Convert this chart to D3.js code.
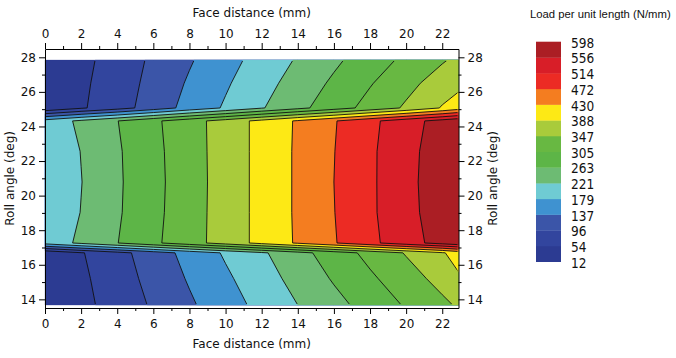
<!DOCTYPE html>
<html><head><meta charset="utf-8">
<script src="https://cdn.jsdelivr.net/npm/d3@7"></script>
<style>body{margin:0;background:#fff} svg{display:block}</style>
</head><body>
<svg id="chart" width="676" height="358"></svg>
<script>
// ---- data ----
const faceDistance = [0, 2, 4, 6, 8, 10, 12, 14, 16, 18, 20, 22, 22.9];      // grid columns (mm)
const rollAngle = [27.84, 26.5, 25.07, 24.32, 22.56, 20.79, 19.03, 17.26, 16.69, 15.2, 13.67]; // grid rows (deg)
// load per unit length (N/mm), one row per roll angle, one value per face distance
const loadTopEdge      = [12, 42, 73, 103, 133, 164, 195, 225, 255, 285, 314, 343, 356];
const loadTopMid       = [15, 46, 76, 108, 142, 174, 206, 238, 270, 302, 334, 367, 376];
const loadTopInner     = [17, 49, 79, 114, 151, 184, 218, 252, 285, 319, 353, 391, 410];
const loadContactTop   = [195, 229, 262, 297, 331, 365, 400, 435, 469, 504, 539, 572, 587];
const loadContactUpper = [186, 222, 258, 294, 330, 365, 400, 436, 471, 507, 543, 578, 594];
const loadContactMid   = [183, 220, 257, 293, 329, 365, 400, 436, 472, 507, 544, 580, 596];
const loadContactLower = [186, 222, 258, 294, 330, 365, 400, 436, 471, 507, 543, 578, 594];
const loadContactBot   = [195, 229, 262, 297, 331, 365, 400, 435, 469, 504, 539, 572, 587];
const loadBotInner     = [18, 51, 83, 116, 151, 184, 215, 249, 283, 317, 350, 384, 405];
const loadBotMid       = [15, 46, 77, 109, 141, 172, 203, 235, 267, 298, 329, 361, 382];
const loadBotEdge      = [12, 42, 72, 101, 131, 161, 191, 221, 250, 279, 309, 338, 352];
const loadRows = [loadTopEdge, loadTopMid, loadTopInner, loadContactTop, loadContactUpper,
  loadContactMid, loadContactLower, loadContactBot, loadBotInner, loadBotMid, loadBotEdge];

const levels = [12, 54, 96, 137, 179, 221, 263, 305, 347, 388, 430, 472, 514, 556, 598];
const levelColors = ["#2c3b92", "#32459e", "#3b55a8", "#3f92d0", "#6fcbd3", "#6dbb73",
  "#5db547", "#68b842", "#a9cb3b", "#fde915", "#f47d20", "#ec2b24", "#d81e28", "#ab1e24"];
const xTickLabels = [0, 2, 4, 6, 8, 10, 12, 14, 16, 18, 20, 22];
const xMinorTicks = [1, 3, 5, 7, 9, 11, 13, 15, 17, 19, 21];
const yTickLabels = [14, 16, 18, 20, 22, 24, 26, 28];
const yMinorTicks = [15, 17, 19, 21, 23, 25, 27];

// ---- scales ----
const svg = d3.select("#chart");
const x = d3.scaleLinear().domain([0, 22.9]).range([45, 458.5]);
const y = d3.scaleLinear().domain([13.5, 28.48]).range([308, 49]);

const n = faceDistance.length, m = rollAngle.length;
const values = loadRows.flat();
function gridMap(arr, c) {
  let f = Math.max(0, Math.min(arr.length - 1, c - 0.5));
  const i = Math.min(arr.length - 2, Math.floor(f));
  const t = f - i;
  return arr[i] + t * (arr[i + 1] - arr[i]);
}
function toPath(geom) {
  let s = "";
  geom.coordinates.forEach(poly => poly.forEach(ring => {
    s += "M" + ring.map(p => x(gridMap(faceDistance, p[0])).toFixed(2) + "," +
      y(gridMap(rollAngle, p[1])).toFixed(2)).join("L") + "Z";
  }));
  return s;
}
const contours = d3.contours().size([n, m]);

const defs = svg.append("defs");
defs.append("clipPath").attr("id", "lineclip").append("rect")
  .attr("x", x(0) + 1).attr("y", y(27.84) + 1)
  .attr("width", x(22.9) - x(0) - 2).attr("height", y(13.67) - y(27.84) - 2);

const gFill = svg.append("g");
levelColors.forEach((c, i) => {
  const thr = i === 0 ? -1e9 : levels[i];
  gFill.append("path").attr("d", toPath(contours.contour(values, thr)))
    .attr("fill", c).attr("stroke", c).attr("stroke-width", 0.3);
});
const gLines = svg.append("g").attr("clip-path", "url(#lineclip)");
levels.slice(1, levels.length - 1).forEach(l => {
  gLines.append("path").attr("d", toPath(contours.contour(values, l)))
    .attr("fill", "none").attr("stroke", "#111").attr("stroke-width", 0.9);
});

// ---- axes ----
const font = "'DejaVu Sans', sans-serif";
function styleAxis(g) {
  g.selectAll("path.domain").attr("stroke", "#000").attr("stroke-width", 1);
  g.selectAll("line").attr("stroke", "#000");
  g.selectAll("text").attr("font-family", font).attr("font-size", 12).attr("fill", "#111");
}
const xb = svg.append("g").attr("transform", `translate(0,${y.range()[0]})`)
  .call(d3.axisBottom(x).tickValues(xTickLabels).tickSize(6).tickSizeOuter(0).tickPadding(5));
const xt = svg.append("g").attr("transform", `translate(0,${y.range()[1]})`)
  .call(d3.axisTop(x).tickValues(xTickLabels).tickSize(6).tickSizeOuter(0).tickPadding(5));
const yl = svg.append("g").attr("transform", `translate(${x.range()[0]},0)`)
  .call(d3.axisLeft(y).tickValues(yTickLabels).tickSize(6).tickSizeOuter(0).tickPadding(3));
const yr = svg.append("g").attr("transform", `translate(${x.range()[1]},0)`)
  .call(d3.axisRight(y).tickValues(yTickLabels).tickSize(6).tickSizeOuter(0).tickPadding(3));
[xb, xt, yl, yr].forEach(styleAxis);
// minor ticks
svg.append("g").attr("transform", `translate(0,${y.range()[0]})`)
  .call(d3.axisBottom(x).tickValues(xMinorTicks).tickSize(3).tickSizeOuter(0).tickFormat(""))
  .call(g => g.select(".domain").remove()).call(styleAxis);
svg.append("g").attr("transform", `translate(0,${y.range()[1]})`)
  .call(d3.axisTop(x).tickValues(xMinorTicks).tickSize(3).tickSizeOuter(0).tickFormat(""))
  .call(g => g.select(".domain").remove()).call(styleAxis);
svg.append("g").attr("transform", `translate(${x.range()[0]},0)`)
  .call(d3.axisLeft(y).tickValues(yMinorTicks).tickSize(3).tickSizeOuter(0).tickFormat(""))
  .call(g => g.select(".domain").remove()).call(styleAxis);
svg.append("g").attr("transform", `translate(${x.range()[1]},0)`)
  .call(d3.axisRight(y).tickValues(yMinorTicks).tickSize(3).tickSizeOuter(0).tickFormat(""))
  .call(g => g.select(".domain").remove()).call(styleAxis);

// ---- axis titles ----
const cx = (x.range()[0] + x.range()[1]) / 2;
const cy = (y(14) + y(28)) / 2;
svg.append("text").attr("x", cx).attr("y", 17).attr("text-anchor", "middle")
  .attr("font-family", font).attr("font-size", 12).attr("fill", "#111").text("Face distance (mm)");
svg.append("text").attr("x", cx).attr("y", 348).attr("text-anchor", "middle")
  .attr("font-family", font).attr("font-size", 12).attr("fill", "#111").text("Face distance (mm)");
svg.append("text").attr("transform", `translate(14,${cy}) rotate(-90)`).attr("text-anchor", "middle")
  .attr("font-family", font).attr("font-size", 12).attr("fill", "#111").text("Roll angle (deg)");
svg.append("text").attr("transform", `translate(497,${cy}) rotate(-90)`).attr("text-anchor", "middle")
  .attr("font-family", font).attr("font-size", 12).attr("fill", "#111").text("Roll angle (deg)");

// ---- legend ----
const lf = "'Liberation Sans Narrow', 'Arial Narrow', 'DejaVu Sans Condensed', 'Liberation Sans', sans-serif";
const ly = d3.scaleLinear().domain([0, levelColors.length]).range([261.7, 41.7]);
const lg = svg.append("g");
lg.selectAll("rect").data(levelColors).join("rect")
  .attr("x", 536).attr("width", 25)
  .attr("y", (d, i) => ly(i + 1)).attr("height", (d, i) => ly(i) - ly(i + 1) + 0.3)
  .attr("fill", d => d);
lg.selectAll("text.lv").data(levels).join("text").attr("class", "lv")
  .attr("x", 571).attr("y", (d, i) => ly(i) + 1).attr("dominant-baseline", "central")
  .attr("font-family", lf).attr("font-size", 13.5).attr("fill", "#111").text(d => d);
svg.append("text").attr("x", 530).attr("y", 18).attr("font-family", "'Liberation Sans', Arial, sans-serif")
  .attr("font-size", 11.3).attr("fill", "#111").text("Load per unit length (N/mm)");
</script>
</body></html>
